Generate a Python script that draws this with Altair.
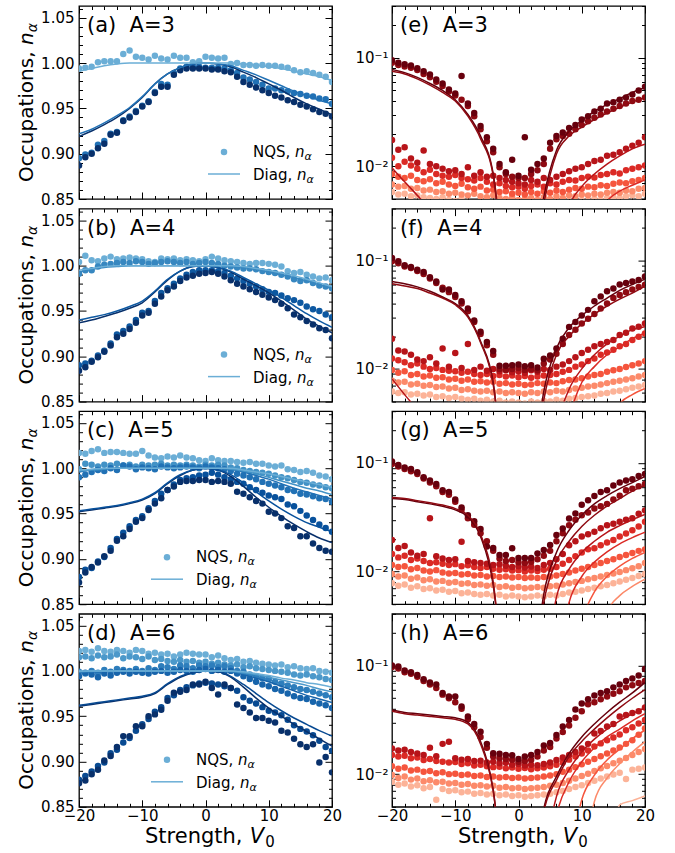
import altair as alt
import pandas as pd

FONT = "DejaVu Sans"
W, H = 253, 193

X_PTS = list(range(-20, 21))
X_LINES = list(range(-20, 21, 2))

# ---------------- left panels: hole occupations (NQS points) ----------------
A_P1 = [0.887, 0.896, 0.900, 0.906, 0.911, 0.921, 0.923, 0.936, 0.940, 0.946,
        0.952, 0.957, 0.967, 0.974, 0.974, 0.987, 0.992, 0.994, 0.994, 0.994,
        0.994, 0.993, 0.993, 0.991, 0.990, 0.985, 0.979, 0.976, 0.973, 0.970,
        0.967, 0.964, 0.962, 0.959, 0.957, 0.954, 0.952, 0.949, 0.946, 0.944, 0.941]
A_P2 = [0.895, 0.899, 0.901, 0.910, 0.914, 0.922, 0.924, 0.937, 0.941, 0.947,
        0.953, 0.958, 0.968, 0.977, 0.976, 0.989, 0.994, 0.996, 0.996, 0.996,
        0.995, 0.995, 0.995, 0.994, 0.992, 0.989, 0.984, 0.982, 0.979, 0.976,
        0.972, 0.972, 0.970, 0.969, 0.967, 0.966, 0.964, 0.963, 0.961, 0.960, 0.955]
A_P3 = [0.994, 0.995, 0.996, 1.001, 1.002, 1.002, 1.002, 1.010, 1.014, 1.007,
        1.006, 1.004, 1.008, 1.005, 1.004, 1.008, 1.006, 1.006, 1.001, 1.002,
        1.007, 1.006, 1.005, 1.006, 0.999, 1.000, 0.998, 0.998, 0.997, 0.998,
        0.997, 0.997, 0.996, 0.995, 0.992, 0.990, 0.991, 0.989, 0.987, 0.985, 0.979]

B_P1 = [0.884, 0.888, 0.894, 0.899, 0.905, 0.912, 0.921, 0.925, 0.930, 0.937,
        0.945, 0.948, 0.958, 0.966, 0.973, 0.977, 0.983, 0.987, 0.989, 0.991,
        0.992, 0.993, 0.991, 0.988, 0.984, 0.980, 0.977, 0.974, 0.971, 0.968,
        0.965, 0.962, 0.958, 0.953, 0.946, 0.943, 0.939, 0.935, 0.931, 0.929, 0.920]
B_P2 = [0.890, 0.892, 0.895, 0.901, 0.906, 0.914, 0.924, 0.928, 0.933, 0.940,
        0.948, 0.950, 0.961, 0.970, 0.975, 0.980, 0.986, 0.990, 0.993, 0.995,
        0.995, 0.995, 0.994, 0.992, 0.989, 0.986, 0.983, 0.980, 0.977, 0.974,
        0.971, 0.970, 0.967, 0.964, 0.962, 0.959, 0.955, 0.952, 0.950, 0.946, 0.943]
B_P3 = [0.991, 0.995, 0.995, 0.999, 1.001, 1.002, 1.003, 1.004, 1.003, 1.005,
        1.004, 1.002, 1.003, 1.004, 1.005, 1.004, 1.003, 1.004, 1.002, 1.003,
        1.004, 1.003, 1.002, 1.000, 0.999, 0.998, 0.997, 0.997, 0.996, 0.994,
        0.993, 0.992, 0.990, 0.988, 0.985, 0.983, 0.984, 0.981, 0.978, 0.977, 0.975]
B_P4 = [1.004, 1.011, 1.006, 1.005, 1.008, 1.010, 1.007, 1.008, 1.009, 1.008,
        1.007, 1.005, 1.004, 1.008, 1.007, 1.008, 1.006, 1.007, 1.006, 1.005,
        1.007, 1.010, 1.008, 1.006, 1.005, 1.004, 1.003, 1.002, 1.003, 1.003,
        1.002, 1.001, 0.999, 0.994, 0.992, 0.993, 0.990, 0.988, 0.986, 0.987, 0.984]

C_P1 = [0.874, 0.885, 0.891, 0.896, 0.903, 0.909, 0.920, 0.925, 0.933, 0.941,
        0.945, 0.954, 0.961, 0.967, 0.976, 0.980, 0.985, 0.986, 0.986, 0.987,
        0.987, 0.985, 0.986, 0.985, 0.983, 0.974, 0.972, 0.968, 0.964, 0.961,
        0.952, 0.950, 0.945, 0.936, 0.934, 0.925, 0.925, 0.917, 0.912, 0.909, 0.908]
C_P2 = [0.880, 0.888, 0.890, 0.897, 0.902, 0.912, 0.922, 0.929, 0.936, 0.943,
        0.947, 0.956, 0.964, 0.972, 0.976, 0.982, 0.987, 0.989, 0.990, 0.992,
        0.993, 0.995, 0.993, 0.990, 0.988, 0.985, 0.983, 0.979, 0.976, 0.973,
        0.970, 0.968, 0.966, 0.960, 0.958, 0.953, 0.948, 0.943, 0.938, 0.934, 0.930]
C_P3 = [0.990, 0.993, 0.996, 0.998, 0.997, 1.000, 0.998, 1.003, 1.002, 0.999,
        1.001, 1.000, 0.999, 1.002, 1.001, 1.000, 1.001, 1.002, 1.001, 1.000,
        1.002, 1.001, 1.000, 0.999, 0.997, 0.994, 0.992, 0.990, 0.988, 0.985,
        0.983, 0.981, 0.979, 0.976, 0.975, 0.972, 0.971, 0.969, 0.967, 0.966, 0.963]
C_P4 = [0.999, 1.005, 1.004, 1.002, 1.004, 1.003, 1.005, 1.003, 1.004, 1.002,
        1.004, 1.003, 1.004, 1.005, 1.003, 1.004, 1.003, 1.004, 1.003, 1.002,
        1.004, 1.003, 1.004, 1.003, 1.001, 1.000, 0.998, 0.997, 0.996, 0.995,
        0.994, 0.992, 0.990, 0.989, 0.987, 0.985, 0.984, 0.982, 0.981, 0.979, 0.978]
C_P5 = [1.017, 1.016, 1.019, 1.021, 1.017, 1.018, 1.018, 1.017, 1.016, 1.016,
        1.019, 1.014, 1.012, 1.011, 1.013, 1.012, 1.014, 1.012, 1.011, 1.009,
        1.008, 1.011, 1.009, 1.008, 1.008, 1.007, 1.006, 1.007, 1.005, 1.005,
        1.003, 1.002, 1.003, 0.999, 0.998, 0.996, 0.997, 0.995, 0.992, 0.991, 0.988]

D_P1 = [0.876, 0.879, 0.886, 0.891, 0.901, 0.906, 0.916, 0.928, 0.928, 0.939,
        0.939, 0.950, 0.952, 0.957, 0.967, 0.976, 0.977, 0.979, 0.985, 0.985,
        0.988, 0.981, 0.974, 0.985, 0.981, 0.963, 0.959, 0.954, 0.948, 0.948,
        0.945, 0.943, 0.934, 0.932, 0.925, 0.919, 0.916, 0.919, 0.899, 0.905, 0.888]
D_P2 = [0.880, 0.884, 0.889, 0.895, 0.899, 0.909, 0.913, 0.921, 0.926, 0.934,
        0.941, 0.947, 0.955, 0.960, 0.970, 0.973, 0.979, 0.982, 0.984, 0.986,
        0.987, 0.986, 0.985, 0.983, 0.981, 0.978, 0.971, 0.967, 0.964, 0.960,
        0.956, 0.954, 0.951, 0.946, 0.940, 0.936, 0.933, 0.929, 0.923, 0.916, 0.912]
D_P3 = [0.994, 0.998, 0.996, 0.993, 0.997, 0.995, 0.998, 0.999, 0.997, 0.999,
        0.998, 0.997, 0.999, 1.000, 0.998, 0.999, 1.001, 1.000, 0.999, 1.001,
        1.002, 1.000, 1.001, 0.999, 1.000, 0.997, 0.994, 0.991, 0.988, 0.985,
        0.983, 0.980, 0.978, 0.975, 0.972, 0.970, 0.969, 0.966, 0.964, 0.962, 0.959]
D_P4 = [0.999, 0.997, 1.000, 0.998, 1.001, 0.999, 1.002, 1.001, 1.000, 1.002,
        1.000, 1.003, 1.001, 1.005, 1.004, 1.002, 1.006, 1.005, 1.003, 1.006,
        1.005, 1.006, 1.004, 1.005, 1.003, 1.000, 0.999, 0.996, 0.994, 0.992,
        0.991, 0.988, 0.986, 0.984, 0.982, 0.980, 0.979, 0.977, 0.975, 0.973, 0.971]
D_P5 = [1.015, 1.016, 1.014, 1.017, 1.015, 1.016, 1.018, 1.014, 1.016, 1.015,
        1.013, 1.016, 1.012, 1.013, 1.011, 1.010, 1.012, 1.010, 1.011, 1.009,
        1.010, 1.008, 1.009, 1.007, 1.006, 1.007, 1.004, 1.005, 1.003, 1.002,
        1.001, 1.000, 0.999, 0.998, 0.996, 0.995, 0.996, 0.994, 0.993, 0.991, 0.990]
D_P6 = [1.022, 1.023, 1.021, 1.025, 1.022, 1.021, 1.023, 1.022, 1.020, 1.023,
        1.022, 1.019, 1.020, 1.018, 1.019, 1.016, 1.018, 1.020, 1.019, 1.018,
        1.018, 1.015, 1.017, 1.014, 1.012, 1.013, 1.010, 1.011, 1.009, 1.008,
        1.007, 1.006, 1.007, 1.004, 1.005, 1.003, 1.002, 1.003, 1.000, 0.999, 0.998]

# ---------------- left panels: exact diagonalisation lines (x step 2) ----------------
A_L1 = [0.919, 0.925, 0.932, 0.940, 0.950, 0.962, 0.977, 0.988, 0.995, 0.999, 1.000,
        0.999, 0.996, 0.990, 0.984, 0.977, 0.970, 0.962, 0.955, 0.949, 0.943]
A_L2 = [0.922, 0.927, 0.934, 0.942, 0.951, 0.963, 0.977, 0.988, 0.995, 0.999, 1.000,
        0.999, 0.997, 0.992, 0.987, 0.981, 0.975, 0.969, 0.964, 0.959, 0.955]
A_L3 = [0.991, 0.994, 0.997, 0.999, 1.000, 1.000, 1.000, 1.000, 1.000, 1.000, 1.000,
        1.000, 1.000, 0.999, 0.998, 0.996, 0.994, 0.991, 0.988, 0.985, 0.981]

B_L1 = [0.937, 0.940, 0.944, 0.948, 0.953, 0.959, 0.971, 0.984, 0.994, 0.999, 1.000,
        0.998, 0.993, 0.985, 0.978, 0.970, 0.961, 0.951, 0.941, 0.933, 0.926]
B_L2 = [0.940, 0.943, 0.946, 0.950, 0.955, 0.961, 0.972, 0.985, 0.994, 0.999, 1.000,
        0.998, 0.994, 0.987, 0.980, 0.973, 0.965, 0.956, 0.947, 0.939, 0.932]
B_L3 = [0.993, 0.996, 0.998, 0.999, 1.000, 1.000, 1.000, 1.000, 1.000, 1.000, 1.000,
        1.000, 0.999, 0.998, 0.996, 0.993, 0.990, 0.987, 0.983, 0.979, 0.975]
B_L4 = [0.995, 0.997, 0.999, 1.000, 1.000, 1.000, 1.000, 1.000, 1.000, 1.000, 1.000,
        1.000, 1.000, 0.999, 0.997, 0.995, 0.992, 0.989, 0.985, 0.981, 0.977]

C_L1 = [0.952, 0.954, 0.956, 0.958, 0.961, 0.965, 0.972, 0.983, 0.992, 0.998, 1.000,
        0.998, 0.991, 0.980, 0.968, 0.957, 0.947, 0.938, 0.930, 0.923, 0.918]
C_L2 = [0.953, 0.955, 0.957, 0.959, 0.962, 0.966, 0.973, 0.984, 0.993, 0.998, 1.000,
        0.998, 0.993, 0.984, 0.974, 0.964, 0.955, 0.947, 0.940, 0.935, 0.930]
C_L3 = [0.996, 0.998, 0.999, 1.000, 1.000, 1.000, 1.000, 1.000, 1.000, 1.000, 1.000,
        1.000, 0.999, 0.996, 0.992, 0.988, 0.983, 0.978, 0.974, 0.970, 0.966]
C_L4 = [0.997, 0.998, 0.999, 1.000, 1.000, 1.000, 1.000, 1.000, 1.000, 1.000, 1.000,
        1.000, 0.999, 0.997, 0.994, 0.990, 0.986, 0.982, 0.978, 0.975, 0.971]
C_L5 = [0.998, 0.999, 1.000, 1.000, 1.000, 1.000, 1.000, 1.000, 1.000, 1.000, 1.000,
        1.000, 1.000, 0.998, 0.996, 0.994, 0.991, 0.988, 0.985, 0.982, 0.979]

D_L1 = [0.961, 0.963, 0.965, 0.967, 0.969, 0.971, 0.975, 0.985, 0.993, 0.998, 1.000,
        0.999, 0.993, 0.982, 0.970, 0.959, 0.950, 0.941, 0.933, 0.925, 0.917]
D_L2 = [0.962, 0.964, 0.966, 0.968, 0.970, 0.972, 0.976, 0.986, 0.994, 0.998, 1.000,
        0.999, 0.994, 0.985, 0.975, 0.965, 0.956, 0.948, 0.941, 0.934, 0.928]
D_L3 = [0.998, 0.999, 0.999, 1.000, 1.000, 1.000, 1.000, 1.000, 1.000, 1.000, 1.000,
        1.000, 0.999, 0.996, 0.992, 0.988, 0.983, 0.978, 0.973, 0.969, 0.965]
D_L4 = [0.999, 0.999, 1.000, 1.000, 1.000, 1.000, 1.000, 1.000, 1.000, 1.000, 1.000,
        1.000, 0.999, 0.997, 0.994, 0.990, 0.986, 0.982, 0.978, 0.975, 0.971]
D_L5 = [0.999, 1.000, 1.000, 1.000, 1.000, 1.000, 1.000, 1.000, 1.000, 1.000, 1.000,
        1.000, 1.000, 0.998, 0.996, 0.993, 0.990, 0.987, 0.984, 0.980, 0.977]
D_L6 = [1.000, 1.000, 1.000, 1.000, 1.000, 1.000, 1.000, 1.000, 1.000, 1.000, 1.000,
        1.000, 1.000, 0.999, 0.997, 0.995, 0.992, 0.990, 0.987, 0.985, 0.982]

# ---------------- right panels: particle occupations (NQS points) ----------------
E_P1 = [0.095, 0.090, 0.087, 0.085, 0.080, 0.075, 0.070, 0.063, 0.058, 0.051,
        0.047, 0.068, 0.038, 0.031, 0.0235, 0.0185, 0.0145, 0.0105, 0.0088, 0.0115,
        0.0082, 0.0185, 0.0093, 0.0105, 0.0118, 0.0165, 0.019, 0.0205, 0.0225, 0.024,
        0.027, 0.029, 0.032, 0.034, 0.038, 0.039, 0.041, 0.043, 0.046, 0.050, 0.054]
E_P2 = [0.090, 0.086, 0.083, 0.081, 0.077, 0.071, 0.066, 0.060, 0.055, 0.049,
        0.045, 0.041, 0.036, 0.029, 0.022, 0.017, 0.0135, 0.0098, 0.0085, 0.0080,
        0.0078, 0.0078, 0.0085, 0.0092, 0.0105, 0.0145, 0.0178, 0.019, 0.020, 0.022,
        0.024, 0.026, 0.028, 0.030, 0.032, 0.034, 0.036, 0.038, 0.040, 0.041, 0.043]
E_P3 = [0.0175, 0.0142, 0.0150, 0.0118, 0.0108, 0.0140, 0.0105, 0.0100, 0.0095, 0.0090,
        0.0092, 0.0085, 0.0098, 0.0082, 0.0088, 0.0080, 0.0082, 0.0078, 0.0075, 0.0072,
        0.0070, 0.0068, 0.0075, 0.0072, 0.0078, 0.0075, 0.0080, 0.0085, 0.0090, 0.0095,
        0.0098, 0.0105, 0.0112, 0.0115, 0.0125, 0.0128, 0.0135, 0.0145, 0.0155, 0.0165, 0.0185]
E_P4 = [0.0120, 0.0100, 0.0110, 0.0102, 0.0095, 0.0088, 0.0093, 0.0085, 0.0082, 0.0080,
        0.0083, 0.0078, 0.0076, 0.0074, 0.0078, 0.0072, 0.0068, 0.0070, 0.0066, 0.0064,
        0.0065, 0.0062, 0.0066, 0.0068, 0.0065, 0.0070, 0.0068, 0.0072, 0.0075, 0.0074,
        0.0078, 0.0080, 0.0079, 0.0083, 0.0085, 0.0088, 0.0086, 0.0092, 0.0095, 0.0098, 0.0102]
E_P5 = [0.0085, 0.0080, 0.0078, 0.0082, 0.0075, 0.0073, 0.0076, 0.0070, 0.0072, 0.0068,
        0.0066, 0.0069, 0.0064, 0.0062, 0.0065, 0.0060, 0.0061, 0.0058, 0.0059, 0.0056,
        0.0057, 0.0055, 0.0058, 0.0056, 0.0059, 0.0057, 0.0060, 0.0058, 0.0061, 0.0063,
        0.0062, 0.0065, 0.0064, 0.0067, 0.0066, 0.0069, 0.0071, 0.0070, 0.0073, 0.0075, 0.0078]
E_P6 = [0.0068, 0.0065, 0.0066, 0.0062, 0.0063, 0.0060, 0.0061, 0.0058, 0.0059, 0.0056,
        0.0057, 0.0055, 0.0054, 0.0056, 0.0053, 0.0052, 0.0054, 0.0051, 0.0050, 0.0052,
        0.0049, 0.0050, 0.0051, 0.0049, 0.0052, 0.0050, 0.0053, 0.0051, 0.0054, 0.0053,
        0.0055, 0.0054, 0.0056, 0.0055, 0.0057, 0.0058, 0.0057, 0.0060, 0.0059, 0.0062, 0.0063]
E_P7 = [0.0058, 0.0055, 0.0056, 0.0053, 0.0054, 0.0052, 0.0051, 0.0050, 0.0052, 0.0049,
        0.0048, 0.0050, 0.0047, 0.0046, 0.0048, 0.0045, 0.0046, 0.0044, 0.0045, 0.0043,
        0.0044, 0.0043, 0.0045, 0.0044, 0.0046, 0.0045, 0.0047, 0.0046, 0.0048, 0.0047,
        0.0049, 0.0048, 0.0050, 0.0049, 0.0051, 0.0052, 0.0051, 0.0053, 0.0054, 0.0053, 0.0056]

F_P1 = [0.105, 0.098, 0.090, 0.087, 0.082, 0.078, 0.070, 0.064, 0.054, 0.054,
        0.048, 0.042, 0.036, 0.028, 0.022, 0.0177, 0.0146, 0.0107, 0.0107, 0.0108,
        0.0110, 0.0106, 0.0108, 0.0103, 0.0124, 0.0133, 0.0154, 0.019, 0.0244, 0.027,
        0.031, 0.035, 0.042, 0.0466, 0.052, 0.055, 0.060, 0.062, 0.064, 0.066, 0.071]
F_P2 = [0.098, 0.094, 0.088, 0.085, 0.080, 0.075, 0.068, 0.062, 0.056, 0.051,
        0.046, 0.040, 0.034, 0.027, 0.021, 0.0165, 0.0135, 0.0100, 0.0098, 0.0100,
        0.0102, 0.0098, 0.0100, 0.0097, 0.0112, 0.0122, 0.0138, 0.017, 0.0205, 0.023,
        0.0262, 0.029, 0.032, 0.036, 0.040, 0.045, 0.048, 0.051, 0.054, 0.057, 0.0597]
F_P3 = [0.019, 0.0148, 0.0145, 0.0135, 0.0122, 0.0118, 0.0128, 0.0112, 0.0154, 0.0105,
        0.0140, 0.0102, 0.0170, 0.0098, 0.0105, 0.0096, 0.0100, 0.0095, 0.0098, 0.0093,
        0.0095, 0.0092, 0.0097, 0.0094, 0.0100, 0.0098, 0.0105, 0.0110, 0.0118, 0.0128,
        0.0140, 0.0150, 0.0162, 0.0170, 0.0177, 0.0185, 0.0205, 0.0215, 0.0236, 0.0245, 0.0262]
F_P4 = [0.0125, 0.0120, 0.0115, 0.0108, 0.0112, 0.0105, 0.0100, 0.0102, 0.0098, 0.0096,
        0.0095, 0.0092, 0.0094, 0.0090, 0.0088, 0.0090, 0.0086, 0.0088, 0.0085, 0.0087,
        0.0084, 0.0086, 0.0083, 0.0085, 0.0087, 0.0088, 0.0090, 0.0094, 0.0098, 0.0105,
        0.0110, 0.0118, 0.0125, 0.0135, 0.0142, 0.0150, 0.0162, 0.0170, 0.0185, 0.0198, 0.0212]
F_P5 = [0.0098, 0.0092, 0.0095, 0.0088, 0.0090, 0.0085, 0.0087, 0.0083, 0.0084, 0.0080,
        0.0081, 0.0078, 0.0080, 0.0076, 0.0077, 0.0075, 0.0076, 0.0073, 0.0074, 0.0072,
        0.0073, 0.0071, 0.0072, 0.0074, 0.0073, 0.0075, 0.0074, 0.0077, 0.0079, 0.0080,
        0.0082, 0.0085, 0.0088, 0.0090, 0.0094, 0.0097, 0.0100, 0.0104, 0.0108, 0.0112, 0.0118]
F_P6 = [0.0078, 0.0075, 0.0076, 0.0072, 0.0073, 0.0070, 0.0071, 0.0068, 0.0069, 0.0066,
        0.0067, 0.0064, 0.0065, 0.0063, 0.0062, 0.0063, 0.0061, 0.0062, 0.0060, 0.0061,
        0.0060, 0.0059, 0.0061, 0.0060, 0.0062, 0.0061, 0.0063, 0.0062, 0.0064, 0.0066,
        0.0067, 0.0069, 0.0070, 0.0072, 0.0074, 0.0076, 0.0078, 0.0080, 0.0082, 0.0085, 0.0088]
F_P7 = [0.0062, 0.0060, 0.0061, 0.0058, 0.0059, 0.0057, 0.0058, 0.0055, 0.0056, 0.0054,
        0.0055, 0.0053, 0.0052, 0.0053, 0.0051, 0.0052, 0.0050, 0.0051, 0.0049, 0.0050,
        0.0049, 0.0048, 0.0050, 0.0049, 0.0051, 0.0050, 0.0052, 0.0051, 0.0053, 0.0054,
        0.0055, 0.0056, 0.0057, 0.0059, 0.0060, 0.0062, 0.0063, 0.0065, 0.0067, 0.0069, 0.0071]

G_P1 = [0.103, 0.096, 0.091, 0.088, 0.082, 0.074, 0.069, 0.064, 0.056, 0.054,
        0.046, 0.039, 0.033, 0.029, 0.0246, 0.017, 0.0165, 0.0142, 0.0142, 0.0164,
        0.0133, 0.0133, 0.0133, 0.0147, 0.0158, 0.0176, 0.0217, 0.0249, 0.0308, 0.0342,
        0.0413, 0.0453, 0.0496, 0.054, 0.056, 0.062, 0.066, 0.069, 0.071, 0.076, 0.079]
G_P2 = [0.098, 0.093, 0.088, 0.084, 0.079, 0.072, 0.066, 0.061, 0.054, 0.051,
        0.044, 0.037, 0.031, 0.027, 0.0225, 0.019, 0.0155, 0.0132, 0.0125, 0.0128,
        0.0122, 0.0120, 0.0123, 0.0130, 0.0140, 0.0155, 0.0190, 0.0225, 0.0267, 0.030,
        0.033, 0.035, 0.038, 0.040, 0.042, 0.046, 0.050, 0.056, 0.058, 0.061, 0.064]
G_P3 = [0.0195, 0.0165, 0.0172, 0.0150, 0.0140, 0.0145, 0.031, 0.0138, 0.0132, 0.0128,
        0.0130, 0.0188, 0.0125, 0.0122, 0.0120, 0.0118, 0.0115, 0.0117, 0.0113, 0.0110,
        0.0112, 0.0109, 0.0111, 0.0108, 0.0115, 0.0120, 0.0130, 0.0145, 0.0175, 0.0190,
        0.021, 0.022, 0.0232, 0.025, 0.0267, 0.0275, 0.0287, 0.030, 0.031, 0.034, 0.0366]
G_P4 = [0.0145, 0.0135, 0.0140, 0.0128, 0.0132, 0.0125, 0.0120, 0.0122, 0.0118, 0.0115,
        0.0117, 0.0112, 0.0114, 0.0110, 0.0108, 0.0110, 0.0106, 0.0104, 0.0105, 0.0102,
        0.0103, 0.0100, 0.0102, 0.0101, 0.0104, 0.0106, 0.0110, 0.0118, 0.0128, 0.0138,
        0.0150, 0.0160, 0.0164, 0.0175, 0.0185, 0.0195, 0.021, 0.0224, 0.024, 0.026, 0.0287]
G_P5 = [0.0115, 0.0110, 0.0112, 0.0105, 0.0108, 0.0102, 0.0100, 0.0103, 0.0098, 0.0096,
        0.0097, 0.0094, 0.0095, 0.0092, 0.0093, 0.0090, 0.0091, 0.0089, 0.0090, 0.0088,
        0.0089, 0.0087, 0.0088, 0.0087, 0.0089, 0.0090, 0.0092, 0.0095, 0.0098, 0.0102,
        0.0106, 0.0110, 0.0115, 0.0120, 0.0125, 0.0130, 0.0136, 0.0142, 0.0148, 0.0155, 0.0160]
G_P6 = [0.0095, 0.0090, 0.0092, 0.0086, 0.0088, 0.0083, 0.0085, 0.0081, 0.0082, 0.0079,
        0.0080, 0.0077, 0.0078, 0.0075, 0.0076, 0.0074, 0.0075, 0.0072, 0.0073, 0.0071,
        0.0072, 0.0070, 0.0071, 0.0072, 0.0071, 0.0073, 0.0074, 0.0076, 0.0078, 0.0080,
        0.0082, 0.0085, 0.0087, 0.0090, 0.0093, 0.0096, 0.0099, 0.0103, 0.0107, 0.0112, 0.0120]
G_P7 = [0.0078, 0.0074, 0.0076, 0.0071, 0.0073, 0.0069, 0.0070, 0.0067, 0.0068, 0.0065,
        0.0066, 0.0063, 0.0064, 0.0062, 0.0061, 0.0062, 0.0060, 0.0061, 0.0059, 0.0060,
        0.0059, 0.0058, 0.0059, 0.0060, 0.0059, 0.0061, 0.0060, 0.0062, 0.0064, 0.0065,
        0.0067, 0.0069, 0.0071, 0.0073, 0.0075, 0.0078, 0.0081, 0.0084, 0.0087, 0.0091, 0.0095]

H_P1 = [0.100, 0.098, 0.090, 0.087, 0.082, 0.075, 0.070, 0.067, 0.056, 0.052,
        0.052, 0.042, 0.034, 0.029, 0.0246, 0.019, 0.0156, 0.0154, 0.0150, 0.0149,
        0.0138, 0.0145, 0.0150, 0.0160, 0.0184, 0.0194, 0.0229, 0.0274, 0.0316, 0.0393,
        0.0447, 0.049, 0.053, 0.056, 0.058, 0.063, 0.067, 0.072, 0.076, 0.081, 0.093]
H_P2 = [0.097, 0.094, 0.087, 0.084, 0.079, 0.072, 0.067, 0.062, 0.054, 0.050,
        0.046, 0.040, 0.032, 0.027, 0.022, 0.0175, 0.0145, 0.0140, 0.0138, 0.0136,
        0.0130, 0.0132, 0.0136, 0.0145, 0.0165, 0.0178, 0.0213, 0.0245, 0.028, 0.033,
        0.038, 0.044, 0.046, 0.049, 0.052, 0.055, 0.058, 0.063, 0.066, 0.069, 0.072]
H_P3 = [0.0172, 0.0165, 0.0168, 0.0160, 0.0155, 0.0150, 0.0175, 0.0146, 0.0190, 0.0199,
        0.0140, 0.0136, 0.0138, 0.0132, 0.0133, 0.0128, 0.0130, 0.0126, 0.0127, 0.0122,
        0.0124, 0.0120, 0.0122, 0.0121, 0.0124, 0.0128, 0.0135, 0.0142, 0.0150, 0.0160,
        0.0172, 0.0190, 0.0237, 0.025, 0.0274, 0.029, 0.034, 0.035, 0.0365, 0.038, 0.041]
H_P4 = [0.0150, 0.0145, 0.0148, 0.0140, 0.0142, 0.0135, 0.0138, 0.0132, 0.0130, 0.0128,
        0.0129, 0.0124, 0.0126, 0.0120, 0.0122, 0.0118, 0.0116, 0.0117, 0.0113, 0.0115,
        0.0112, 0.0114, 0.0111, 0.0113, 0.0115, 0.0118, 0.0122, 0.0128, 0.0136, 0.0145,
        0.0155, 0.0165, 0.0180, 0.0192, 0.0205, 0.0218, 0.0232, 0.0254, 0.0270, 0.0292, 0.0316]
H_P5 = [0.0118, 0.0112, 0.0115, 0.0108, 0.0110, 0.0105, 0.0107, 0.0102, 0.0104, 0.0100,
        0.0101, 0.0098, 0.0099, 0.0096, 0.0097, 0.0094, 0.0095, 0.0093, 0.0094, 0.0092,
        0.0093, 0.0091, 0.0092, 0.0093, 0.0095, 0.0097, 0.0100, 0.0105, 0.0110, 0.0116,
        0.0123, 0.0130, 0.0138, 0.0146, 0.0155, 0.0165, 0.0176, 0.0190, 0.0205, 0.0230, 0.0264]
H_P6 = [0.0098, 0.0092, 0.0095, 0.0089, 0.0091, 0.0086, 0.0088, 0.0084, 0.0085, 0.0082,
        0.0083, 0.0080, 0.0081, 0.0078, 0.0079, 0.0077, 0.0078, 0.0075, 0.0076, 0.0074,
        0.0075, 0.0073, 0.0074, 0.0075, 0.0076, 0.0078, 0.0080, 0.0083, 0.0087, 0.0091,
        0.0096, 0.0101, 0.0107, 0.0113, 0.0119, 0.0126, 0.0133, 0.0141, 0.0150, 0.0160, 0.0170]
H_P7 = [0.0085, 0.0080, 0.0082, 0.0077, 0.0079, 0.0074, 0.0076, 0.0058, 0.0073, 0.0070,
        0.0071, 0.0068, 0.0069, 0.0066, 0.0067, 0.0065, 0.0066, 0.0064, 0.0065, 0.0063,
        0.0064, 0.0062, 0.0063, 0.0064, 0.0065, 0.0066, 0.0068, 0.0070, 0.0073, 0.0076,
        0.0079, 0.0083, 0.0087, 0.0091, 0.0095, 0.0099, 0.0103, 0.0090, 0.0110, 0.0112, 0.0115]

# ---------------- right panels: exact diagonalisation lines (x step 2) ----------------
E_L1 = [0.078, 0.073, 0.066, 0.058, 0.050, 0.041, 0.030, 0.019, 0.0085, 0.0008, 0.0001,
        0.0008, 0.0052, 0.0140, 0.021, 0.0265, 0.032, 0.037, 0.042, 0.048, 0.053]
E_L2 = [0.075, 0.071, 0.064, 0.056, 0.048, 0.040, 0.029, 0.018, 0.0082, 0.0007, 0.0001,
        0.0007, 0.0045, 0.013, 0.019, 0.023, 0.027, 0.031, 0.035, 0.039, 0.043]
E_L3 = [0.0097, 0.0072, 0.0054, 0.0040, 0.0028, 0.0018, 0.0010, 0.0005, 0.0002, 0.0001, 0.0001,
        0.0001, 0.0004, 0.0015, 0.0043, 0.0065, 0.0085, 0.0105, 0.0125, 0.0145, 0.016]
E_L4 = [0.0040, 0.0030, 0.0020, 0.0015, 0.0010, 0.0007, 0.0004, 0.0002, 0.0001, 0.0001, 0.0001,
        0.0001, 0.0001, 0.0003, 0.0008, 0.0017, 0.0030, 0.0048, 0.0059, 0.0067, 0.0075]

F_L1 = [0.064, 0.061, 0.057, 0.052, 0.046, 0.040, 0.031, 0.018, 0.0075, 0.0006, 0.0001,
        0.0008, 0.0062, 0.0155, 0.024, 0.031, 0.038, 0.045, 0.053, 0.060, 0.067]
F_L2 = [0.061, 0.058, 0.055, 0.050, 0.045, 0.039, 0.030, 0.0175, 0.0072, 0.0006, 0.0001,
        0.0007, 0.0052, 0.0135, 0.020, 0.026, 0.032, 0.038, 0.044, 0.050, 0.058]
F_L3 = [0.0081, 0.0058, 0.0042, 0.0030, 0.0020, 0.0013, 0.0008, 0.0004, 0.0002, 0.0001, 0.0001,
        0.0001, 0.0004, 0.0028, 0.0065, 0.0100, 0.0135, 0.0170, 0.0200, 0.0230, 0.0245]
F_L4 = [0.0040, 0.0030, 0.0020, 0.0014, 0.0009, 0.0006, 0.0004, 0.0002, 0.0001, 0.0001, 0.0001,
        0.0001, 0.0002, 0.0008, 0.0035, 0.0075, 0.0105, 0.0135, 0.0160, 0.0190, 0.0215]
F_L5 = [0.0020, 0.0015, 0.0010, 0.0008, 0.0005, 0.0003, 0.0002, 0.0001, 0.0001, 0.0001, 0.0001,
        0.0001, 0.0001, 0.0001, 0.0002, 0.0006, 0.0015, 0.0030, 0.0048, 0.0058, 0.0066]

G_L1 = [0.047, 0.046, 0.044, 0.042, 0.040, 0.037, 0.032, 0.021, 0.0075, 0.0006, 0.0001,
        0.0007, 0.0062, 0.0150, 0.024, 0.033, 0.042, 0.050, 0.058, 0.066, 0.075]
G_L2 = [0.048, 0.047, 0.045, 0.043, 0.041, 0.038, 0.033, 0.022, 0.0080, 0.0006, 0.0001,
        0.0006, 0.0052, 0.0125, 0.019, 0.026, 0.033, 0.040, 0.047, 0.055, 0.062]
G_L3 = [0.0020, 0.0015, 0.0010, 0.0007, 0.0005, 0.0003, 0.0002, 0.0001, 0.0001, 0.0001, 0.0001,
        0.0001, 0.0009, 0.0058, 0.0105, 0.0150, 0.0190, 0.0230, 0.0265, 0.0300, 0.0335]
G_L4 = [0.0015, 0.0010, 0.0008, 0.0005, 0.0003, 0.0002, 0.0001, 0.0001, 0.0001, 0.0001, 0.0001,
        0.0001, 0.0002, 0.0012, 0.0052, 0.0090, 0.0122, 0.0152, 0.0180, 0.0205, 0.0230]
G_L5 = [0.0010, 0.0008, 0.0005, 0.0003, 0.0002, 0.0001, 0.0001, 0.0001, 0.0001, 0.0001, 0.0001,
        0.0001, 0.0001, 0.0002, 0.0010, 0.0035, 0.0065, 0.0090, 0.0112, 0.0132, 0.0150]
G_L6 = [0.0008, 0.0006, 0.0004, 0.0003, 0.0002, 0.0001, 0.0001, 0.0001, 0.0001, 0.0001, 0.0001,
        0.0001, 0.0001, 0.0001, 0.0002, 0.0004, 0.0008, 0.0042, 0.0060, 0.0073, 0.0085]

H_L1 = [0.039, 0.037, 0.036, 0.035, 0.034, 0.033, 0.030, 0.020, 0.0072, 0.0006, 0.0001,
        0.0006, 0.0048, 0.0095, 0.0155, 0.022, 0.029, 0.037, 0.046, 0.056, 0.070]
H_L2 = [0.038, 0.036, 0.035, 0.034, 0.033, 0.032, 0.029, 0.019, 0.0070, 0.0006, 0.0001,
        0.0006, 0.0045, 0.0088, 0.0145, 0.020, 0.026, 0.033, 0.041, 0.050, 0.060]
H_L3 = [0.0015, 0.0010, 0.0007, 0.0005, 0.0003, 0.0002, 0.0001, 0.0001, 0.0001, 0.0001, 0.0001,
        0.0001, 0.0015, 0.0062, 0.0110, 0.0160, 0.0210, 0.0260, 0.0310, 0.0360, 0.0410]
H_L4 = [0.0012, 0.0009, 0.0006, 0.0004, 0.0003, 0.0002, 0.0001, 0.0001, 0.0001, 0.0001, 0.0001,
        0.0001, 0.0008, 0.0042, 0.0085, 0.0130, 0.0175, 0.0220, 0.0260, 0.0310, 0.0360]
H_L5 = [0.0010, 0.0008, 0.0005, 0.0003, 0.0002, 0.0001, 0.0001, 0.0001, 0.0001, 0.0001, 0.0001,
        0.0001, 0.0001, 0.0003, 0.0015, 0.0058, 0.0098, 0.0135, 0.0170, 0.0212, 0.0255]
H_L6 = [0.0008, 0.0006, 0.0004, 0.0003, 0.0002, 0.0001, 0.0001, 0.0001, 0.0001, 0.0001, 0.0001,
        0.0001, 0.0001, 0.0001, 0.0003, 0.0012, 0.0056, 0.0092, 0.0125, 0.0160, 0.0199]
H_L7 = [0.0005, 0.0004, 0.0003, 0.0002, 0.0001, 0.0001, 0.0001, 0.0001, 0.0001, 0.0001, 0.0001,
        0.0001, 0.0001, 0.0001, 0.0001, 0.0002, 0.0005, 0.0015, 0.0052, 0.0057, 0.0063]

# ---------------- styling ----------------
BLUES = {
    3: ["#08306b", "#2171b5", "#6baed6"],
    4: ["#08306b", "#0d58a1", "#3787c0", "#6baed6"],
    5: ["#08306b", "#08519c", "#2171b5", "#4292c6", "#6baed6"],
    6: ["#08306b", "#084a92", "#1764ab", "#2e7ebc", "#4b98ca", "#6baed6"],
}
REDS = ["#67000d", "#8f0a12", "#b71419", "#db2a25", "#f5553d", "#fc8a6a", "#fcb398"]

MAJ_X = [-20, -10, 0, 10, 20]
MIN_X = [v for v in range(-18, 20, 2) if v % 10 != 0]
MAJ_YL = [0.85, 0.90, 0.95, 1.00, 1.05]
MIN_YL = [0.86, 0.87, 0.88, 0.89, 0.91, 0.92, 0.93, 0.94, 0.96, 0.97, 0.98, 0.99,
          1.01, 1.02, 1.03, 1.04, 1.06]
MAJ_YR = [0.01, 0.1]
MIN_YR = [0.005, 0.006, 0.007, 0.008, 0.009, 0.02, 0.03, 0.04, 0.05, 0.06, 0.07,
          0.08, 0.09, 0.2, 0.3]

MAJ_T, MIN_T = 7, 3.5


def long_df(xs, series):
    rows = []
    for i, ys in enumerate(series):
        for x, y in zip(xs, ys):
            rows.append({"x": x, "y": y, "s": f"s{i + 1}"})
    return pd.DataFrame(rows)


def axis(orient, values, size, labels=False, **kw):
    return alt.Axis(orient=orient, values=values, tickSize={"expr": str(-size)},
                    labels=labels, domain=False, grid=False, ticks=True,
                    tickColor="black", tickWidth=1, labelFont=FONT,
                    labelFontSize=15, labelColor="black", labelFlush=False,
                    labelOverlap=False, **kw)


def text_item(t, x, y, size=15, italic=False, angle=0, align="left",
              baseline="alphabetic"):
    kw = dict(font=FONT, fontSize=size, align=align, baseline=baseline,
              color="black")
    if italic:
        kw["fontStyle"] = "italic"
    if angle:
        kw["angle"] = angle
    return alt.Chart(pd.DataFrame({"t": [t]})).mark_text(**kw).encode(
        text="t:N", x=alt.value(x), y=alt.value(y))


def panel(tag, a_val, pts, lines, colors, log, show_x, legend_x=None,
          y_title=False):
    dom = [f"s{i + 1}" for i in range(len(colors))]
    cscale = alt.Scale(domain=dom, range=colors)
    xs = alt.Scale(domain=[-20, 20], nice=False, zero=False)
    if log:
        ys = alt.Scale(type="log", domain=[0.005, 0.3], nice=False)
        ymaj = axis("left", MAJ_YR, MAJ_T, labels=True, labelPadding=MAJ_T + 4,
                    labelExpr="datum.value < 0.05 ? '10\u207b\u00b2' : '10\u207b\u00b9'")
        ymaj2 = axis("right", MAJ_YR, MAJ_T)
        ymin1 = axis("left", MIN_YR, MIN_T)
        ymin2 = axis("right", MIN_YR, MIN_T)
    else:
        ys = alt.Scale(domain=[0.85, 1.063], nice=False, zero=False)
        ymaj = axis("left", MAJ_YL, MAJ_T, labels=True, format=".2f",
                    labelPadding=MAJ_T + 5)
        ymaj2 = axis("right", MAJ_YL, MAJ_T)
        ymin1 = axis("left", MIN_YL, MIN_T)
        ymin2 = axis("right", MIN_YL, MIN_T)

    xmaj = axis("bottom", MAJ_X, MAJ_T, labels=show_x, format="d",
                labelPadding=MAJ_T + 2)
    xmaj2 = axis("top", MAJ_X, MAJ_T)
    xmin1 = axis("bottom", MIN_X, MIN_T)
    xmin2 = axis("top", MIN_X, MIN_T)

    dfp = long_df(X_PTS, pts)
    dfl = long_df(X_LINES, lines)
    col = alt.Color("s:N", scale=cscale, legend=None)

    p_layer = alt.Chart(dfp).mark_circle(size=42, opacity=1, clip=True).encode(
        x=alt.X("x:Q", scale=xs, axis=xmaj, title=None),
        y=alt.Y("y:Q", scale=ys, axis=ymaj, title=None),
        color=col, order=alt.Order("s:N", sort="descending"))
    l_layer = alt.Chart(dfl).mark_line(strokeWidth=1.5, clip=True,
                                       interpolate="monotone").encode(
        x=alt.X("x:Q", scale=xs, axis=xmaj2, title=None),
        y=alt.Y("y:Q", scale=ys, axis=ymaj2, title=None),
        color=col, detail="s:N")
    m1 = alt.Chart(dfp).mark_point(opacity=0).encode(
        x=alt.X("x:Q", scale=xs, axis=xmin1, title=None),
        y=alt.Y("y:Q", scale=ys, axis=ymin1, title=None))
    m2 = alt.Chart(dfp).mark_point(opacity=0).encode(
        x=alt.X("x:Q", scale=xs, axis=xmin2, title=None),
        y=alt.Y("y:Q", scale=ys, axis=ymin2, title=None))

    layers = [p_layer, l_layer, m1, m2,
              text_item(f"{tag}\u00a0\u00a0A={a_val}", 8, 26, size=21)]

    if legend_x is not None:
        lc = colors[-1]
        fs = 15
        tx = legend_x + 29
        layers += [
            alt.Chart(pd.DataFrame({"k": ["NQS"]})).mark_circle(
                size=42, opacity=1, color=lc).encode(
                x=alt.value(legend_x), y=alt.value(146)),
            alt.Chart(pd.DataFrame({"k": ["Diag"]})).mark_rule(
                color=lc, strokeWidth=1.5).encode(
                x=alt.value(legend_x - 16), x2=alt.value(legend_x + 16),
                y=alt.value(168)),
            text_item("NQS,", tx, 151, size=fs),
            text_item("n", tx + 2.806 * fs, 151, size=fs, italic=True),
            text_item("\u03b1", tx + 3.44 * fs, 154, size=11, italic=True),
            text_item("Diag,", tx, 174, size=fs),
            text_item("n", tx + 2.932 * fs, 174, size=fs, italic=True),
            text_item("\u03b1", tx + 3.566 * fs, 177, size=11, italic=True),
        ]

    if y_title:
        layers += [
            text_item("Occupations,", -46, 45.5, size=20, angle=270,
                      align="right"),
            text_item("n", -46, 39, size=20, angle=270, italic=True),
            text_item("\u03b1", -42, 26.3, size=14, angle=270, italic=True),
        ]
    if show_x:
        x0 = 66
        fs = 21
        layers += [
            text_item("Strength,", x0, H + 36, size=fs),
            text_item("V", x0 + 4.984 * fs, H + 36, size=fs, italic=True),
            text_item("0", x0 + 4.984 * fs + 15.5, H + 40, size=15),
        ]

    return alt.layer(*layers).resolve_axis(
        x="independent", y="independent").properties(width=W, height=H)


LEFT = [
    ("(a)", 3, [A_P1, A_P2, A_P3], [A_L1, A_L2, A_L3], 145),
    ("(b)", 4, [B_P1, B_P2, B_P3, B_P4], [B_L1, B_L2, B_L3, B_L4], 145),
    ("(c)", 5, [C_P1, C_P2, C_P3, C_P4, C_P5],
     [C_L1, C_L2, C_L3, C_L4, C_L5], 88),
    ("(d)", 6, [D_P1, D_P2, D_P3, D_P4, D_P5, D_P6],
     [D_L1, D_L2, D_L3, D_L4, D_L5, D_L6], 88),
]
RIGHT = [
    ("(e)", 3, [E_P1, E_P2, E_P3, E_P4, E_P5, E_P6, E_P7],
     [E_L1, E_L2, E_L3, E_L4]),
    ("(f)", 4, [F_P1, F_P2, F_P3, F_P4, F_P5, F_P6, F_P7],
     [F_L1, F_L2, F_L3, F_L4, F_L5]),
    ("(g)", 5, [G_P1, G_P2, G_P3, G_P4, G_P5, G_P6, G_P7],
     [G_L1, G_L2, G_L3, G_L4, G_L5, G_L6]),
    ("(h)", 6, [H_P1, H_P2, H_P3, H_P4, H_P5, H_P6, H_P7],
     [H_L1, H_L2, H_L3, H_L4, H_L5, H_L6, H_L7]),
]

panels = []
for i in range(4):
    tag, a_val, pts, lines, lx = LEFT[i]
    bottom = i == 3
    panels.append(panel(tag, a_val, pts, lines, BLUES[a_val], False, bottom,
                        legend_x=lx, y_title=True))
    tag, a_val, pts, lines = RIGHT[i]
    panels.append(panel(tag, a_val, pts, lines, REDS, True, bottom))

chart = alt.concat(*panels, columns=2, spacing={"row": 9.6, "column": 60},
                   bounds="flush").resolve_scale(color="independent").properties(
    padding={"left": 16, "top": 4, "right": 5, "bottom": 5},
    background="white",
).configure_view(stroke="black", strokeWidth=1.3)

chart.save("out.html", embed_options={"renderer": "svg", "actions": False})
